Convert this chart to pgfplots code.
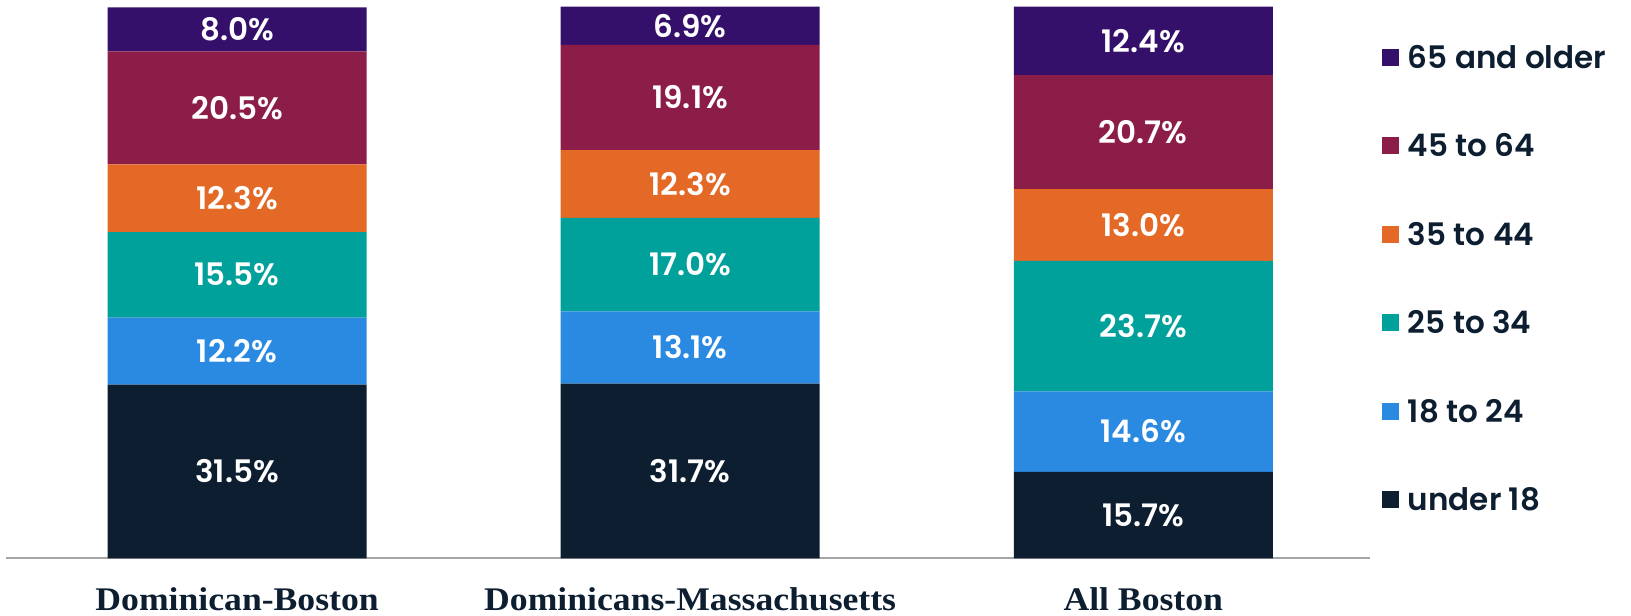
\documentclass[border=0pt]{standalone}
\usepackage{pgfplots}
\pgfplotsset{compat=1.18}
\usepackage{pgfplotstable}
\usepackage{fontspec}
\newfontfamily\pop{Poppins}[BoldFont={Poppins SemiBold}]
\newfontfamily\lser{Liberation Serif}[FakeStretch=1.08]
\definecolor{cU}{RGB}{12,30,48}
\definecolor{cB}{RGB}{42,138,226}
\definecolor{cT}{RGB}{0,160,155}
\definecolor{cO}{RGB}{228,104,38}
\definecolor{cM}{RGB}{140,29,73}
\definecolor{cP}{RGB}{53,16,106}
\definecolor{axgray}{RGB}{165,165,165}

\pgfplotstableread{
x u18 a18 a25 a35 a45 a65
0 31.5 12.2 15.5 12.3 20.5 8.0
1 31.7 13.1 17.0 12.3 19.1 6.9
2 15.7 14.6 23.7 13.0 20.7 12.4
}\agedata

\pgfplotsset{
  lab/.style={
    point meta=\thisrow{#1},
    nodes near coords={\pgfmathprintnumber[fixed,fixed zerofill,precision=1,assume math mode=true]{\pgfplotspointmeta}\%},
    every node near coord/.append style={anchor=center, text=white, font=\pop\bfseries\fontsize{15.5}{15.5}\selectfont, inner sep=0pt},
  },
}

\begin{document}
\begin{tikzpicture}
\useasboundingbox (0,0) rectangle (815.5pt,307.5pt);
\begin{axis}[
  at={(3pt,28.35pt)}, anchor=south west,
  scale only axis,
  width=681.9pt, height=275.5pt,
  xmin=-0.51, xmax=2.5, ymin=0, ymax=100,
  enlargelimits=false,
  clip=false,
  ybar stacked, bar width=129.5pt,
  axis y line=none,
  axis x line=bottom,
  x axis line style={-, draw=axgray, line width=1pt},
  xtick={0,1,2},
  xticklabels={Dominican-Boston, Dominicans-Massachusetts, All Boston},
  major tick length=0pt,
  xtick style={draw=none},
  xticklabel style={font=\lser\bfseries\fontsize{16.5}{16.5}\selectfont, text=cU, anchor=base, yshift=-26.3pt, inner sep=0pt},
  ytick=\empty,
  legend style={at={(axis description cs:1.0089,0.9287)}, anchor=north west, draw=none, fill=none, inner sep=0pt, outer sep=0pt, row sep=33.2pt, column sep=4.5pt, font=\pop\bfseries\fontsize{15.5}{15.5}\selectfont, text=cU, nodes={inner sep=0pt, text height=11pt, text depth=0pt}},
  legend cell align=left,
  reverse legend,
  legend image code/.code={\fill[#1] (0pt,-4.25pt) rectangle (8.5pt,4.25pt);},
]
\addplot[draw=none, fill=cU, lab=u18] table[x=x, y=u18] {\agedata};
\addlegendentry{under 18}
\addplot[draw=none, fill=cB, lab=a18] table[x=x, y=a18] {\agedata};
\addlegendentry{18 to 24}
\addplot[draw=none, fill=cT, lab=a25] table[x=x, y=a25] {\agedata};
\addlegendentry{25 to 34}
\addplot[draw=none, fill=cO, lab=a35] table[x=x, y=a35] {\agedata};
\addlegendentry{35 to 44}
\addplot[draw=none, fill=cM, lab=a45] table[x=x, y=a45] {\agedata};
\addlegendentry{45 to 64}
\addplot[draw=none, fill=cP, lab=a65] table[x=x, y=a65] {\agedata};
\addlegendentry{65 and older}
\end{axis}
\end{tikzpicture}
\end{document}
